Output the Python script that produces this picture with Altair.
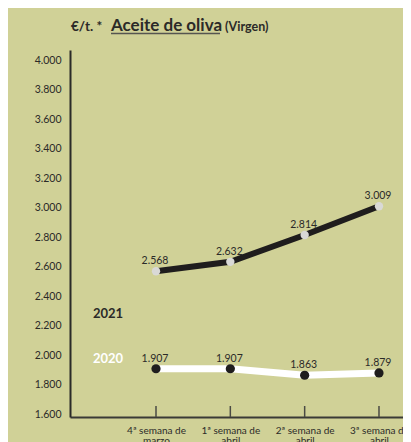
import altair as alt
import pandas as pd

weeks = ["4ª semana de|marzo", "1ª semana de|abril", "2ª semana de|abril", "3ª semana de|abril"]
v2021 = [2568, 2632, 2814, 3009]
v2020 = [1907, 1907, 1863, 1879]
yticks = [1600, 1800, 2000, 2200, 2400, 2600, 2800, 3000, 3200, 3400, 3600, 3800, 4000]

rows = []
for i, w in enumerate(weeks):
    rows.append({"i": i, "semana": w, "year": "2021", "v": v2021[i]})
    rows.append({"i": i, "semana": w, "year": "2020", "v": v2020[i]})
df = pd.DataFrame(rows)

W, H = 333, 367
FONT = "Lato"
DARK = "#2b2a28"
BG = "#d0d197"

week_arr = "[" + ",".join("'" + w + "'" for w in weeks) + "]"

xs = alt.X(
    "i:Q",
    title=None,
    scale=alt.Scale(domain=[-1.157, 3.323], nice=False, zero=False),
    axis=alt.Axis(
        values=[0, 1, 2, 3],
        labelExpr="split(" + week_arr + "[datum.value], '|')",
        ticks=False,
        grid=False,
        domainColor="#3a3a36",
        domainWidth=2,
        labelFont=FONT,
        labelFontSize=10,
        labelColor=DARK,
        labelPadding=8,
        labelLineHeight=10,
        labelBaseline="top",
    ),
)
ys = alt.Y(
    "v:Q",
    title=None,
    scale=alt.Scale(domain=[1580, 4068], nice=False, zero=False),
    axis=alt.Axis(
        values=yticks,
        labelExpr="replace(format(datum.value, ','), ',', '.')",
        ticks=False,
        grid=False,
        domainColor="#2a2a28",
        domainWidth=2,
        labelFont=FONT,
        labelFontSize=10.5,
        labelColor=DARK,
        labelPadding=9,
    ),
)

base = alt.Chart(df)

ticks = base.transform_filter("datum.year == '2021'").mark_rule(
    color="#4a4a44", strokeWidth=1.5
).encode(x=xs, y=alt.value(H), y2=alt.value(H - 11))

line21 = base.transform_filter("datum.year == '2021'").mark_line(
    color="#1f1d1d", strokeWidth=6
).encode(x=xs, y=ys)
line20 = base.transform_filter("datum.year == '2020'").mark_line(
    color="#ffffff", strokeWidth=7
).encode(x=xs, y=ys)

pts21 = base.transform_filter("datum.year == '2021'").mark_circle(
    color="#d9d9d6", opacity=1, size=70
).encode(x=xs, y=ys)
pts20 = base.transform_filter("datum.year == '2020'").mark_circle(
    color="#1f1d1d", opacity=1, size=85
).encode(x=xs, y=ys)

labels = base.transform_calculate(
    lbl="replace(format(datum.v, ','), ',', '.')"
).mark_text(
    font=FONT, fontSize=10.5, color=DARK, dy=-10, baseline="middle", dx=-1
).encode(x=xs, y=ys, text="lbl:N")

one = alt.Data(values=[{}])
t1 = alt.Chart(one).mark_text(
    text="€/t. *", font=FONT, fontSize=13.5, fontWeight="bold", color=DARK,
    align="left", baseline="alphabetic"
).encode(x=alt.value(1), y=alt.value(-19))
t2 = alt.Chart(one).mark_text(
    text="Aceite de oliva", font=FONT, fontSize=17, fontWeight="bold", color=DARK,
    align="left", baseline="alphabetic"
).encode(x=alt.value(41), y=alt.value(-19))
t3 = alt.Chart(one).mark_text(
    text="(Virgen)", font=FONT, fontSize=12.5, fontWeight="bold", color=DARK,
    align="left", baseline="alphabetic"
).encode(x=alt.value(155), y=alt.value(-19))
uline = alt.Chart(one).mark_rule(color="#555550", strokeWidth=1.3).encode(
    x=alt.value(41), x2=alt.value(150), y=alt.value(-16.5)
)
s21 = alt.Chart(one).mark_text(
    text="2021", font=FONT, fontSize=13, fontWeight="bold", color=DARK,
    align="left", baseline="middle"
).encode(x=alt.value(23), y=alt.value(264))
s20 = alt.Chart(one).mark_text(
    text="2020", font=FONT, fontSize=13, fontWeight="bold", color="#ffffff",
    align="left", baseline="middle"
).encode(x=alt.value(23), y=alt.value(309))

chart = alt.layer(
    ticks, line21, line20, pts21, pts20, labels, t1, t2, t3, uline, s21, s20
).properties(
    width=W, height=H,
    autosize=alt.AutoSizeParams(type="none"),
    padding={"left": 62, "top": 42, "right": 0, "bottom": 25},
    background=BG,
).configure_view(stroke=None)

chart.save("out.html", embed_options={"renderer": "svg", "actions": False})
